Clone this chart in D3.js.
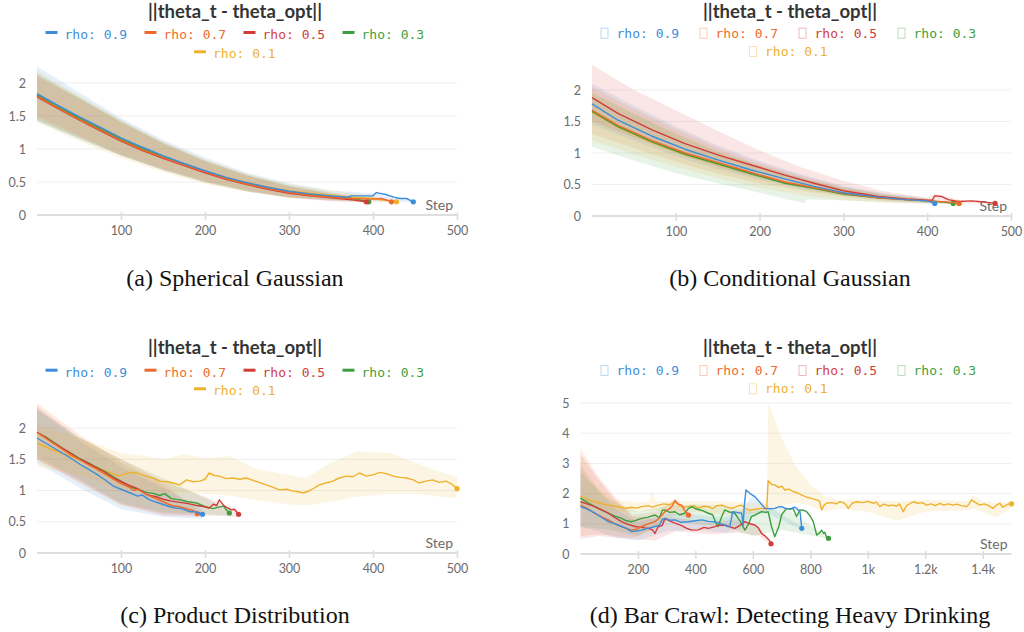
<!DOCTYPE html>
<html>
<head>
<meta charset="utf-8">
<script src="https://cdn.jsdelivr.net/npm/d3@7"></script>
<style>
  body { margin: 0; background: #fff; }
  svg { display: block; }
</style>
</head>
<body>
<svg width="1024" height="632"></svg>
<script>
const rho_labels = ["rho: 0.9", "rho: 0.7", "rho: 0.5", "rho: 0.3", "rho: 0.1"];
const rho_colors = ["#3d8ddb", "#ee6a2c", "#d23c38", "#3c9f3e", "#efb12c"];
const chart_title = "||theta_t - theta_opt||";

// ---- (a) Spherical Gaussian ----
const a_line_09 = [[0,1.84],[25,1.66],[50,1.49],[75,1.33],[100,1.17],[125,1.03],[150,0.9],[175,0.78],[200,0.67],[225,0.57],[250,0.49],[275,0.42],[300,0.36],[325,0.32],[350,0.29],[370,0.27],[374,0.29],[390,0.29],[400,0.29],[404,0.34],[415,0.31],[425,0.27],[432,0.25],[440,0.25],[448,0.2]];
const a_line_07 = [[0,1.8],[25,1.62],[50,1.45],[75,1.29],[100,1.13],[125,0.99],[150,0.87],[175,0.76],[200,0.65],[225,0.55],[250,0.47],[275,0.4],[300,0.34],[325,0.3],[350,0.27],[375,0.25],[400,0.24],[410,0.25],[418,0.22],[422,0.2]];
const a_line_05 = [[0,1.79],[25,1.61],[50,1.44],[75,1.28],[100,1.12],[125,0.98],[150,0.86],[175,0.75],[200,0.64],[225,0.54],[250,0.46],[275,0.39],[300,0.33],[325,0.29],[350,0.26],[375,0.23],[392,0.2]];
const a_line_03 = [[0,1.82],[25,1.64],[50,1.47],[75,1.31],[100,1.15],[125,1.01],[150,0.88],[175,0.77],[200,0.66],[225,0.56],[250,0.48],[275,0.41],[300,0.35],[325,0.31],[350,0.28],[375,0.25],[395,0.2]];
const a_line_01 = [[0,1.81],[25,1.63],[50,1.46],[75,1.3],[100,1.14],[125,1.0],[150,0.88],[175,0.77],[200,0.66],[225,0.57],[250,0.49],[275,0.42],[300,0.37],[325,0.33],[350,0.3],[375,0.27],[400,0.25],[410,0.23],[428,0.2]];
const a_band_09 = [[0,1.42,2.25],[50,1.15,1.86],[100,0.9,1.47],[150,0.68,1.14],[200,0.5,0.87],[250,0.36,0.64],[300,0.26,0.48],[350,0.22,0.37],[400,0.22,0.33],[448,0.19,0.21]];
const a_band_07 = [[0,1.5,2.1],[50,1.2,1.76],[100,0.92,1.41],[150,0.7,1.08],[200,0.52,0.81],[250,0.38,0.6],[300,0.27,0.44],[350,0.22,0.33],[400,0.21,0.28],[422,0.19,0.21]];
const a_band_05 = [[0,1.45,2.12],[50,1.18,1.77],[100,0.9,1.41],[150,0.68,1.09],[200,0.5,0.82],[250,0.36,0.6],[300,0.26,0.43],[350,0.21,0.32],[392,0.19,0.21]];
const a_band_03 = [[0,1.43,2.15],[50,1.16,1.79],[100,0.9,1.43],[150,0.68,1.1],[200,0.49,0.83],[250,0.36,0.61],[300,0.27,0.45],[350,0.23,0.34],[395,0.19,0.21]];
const a_band_01 = [[0,1.4,2.18],[50,1.12,1.81],[100,0.86,1.44],[150,0.65,1.12],[200,0.47,0.85],[250,0.35,0.63],[300,0.26,0.47],[350,0.23,0.37],[400,0.21,0.29],[428,0.19,0.21]];

// ---- (b) Conditional Gaussian ----
const b_line_09 = [[0,1.78],[31,1.52],[71,1.27],[111,1.06],[150,0.89],[190,0.73],[230,0.59],[265,0.47],[300,0.37],[342,0.3],[375,0.26],[400,0.24],[409,0.2]];
const b_line_07 = [[0,1.68],[31,1.44],[71,1.2],[111,1.0],[150,0.85],[190,0.69],[230,0.54],[265,0.45],[300,0.36],[342,0.29],[375,0.26],[400,0.24],[425,0.22],[438,0.2]];
const b_line_05 = [[0,1.88],[31,1.63],[71,1.37],[111,1.15],[150,0.97],[190,0.81],[230,0.65],[265,0.52],[300,0.4],[342,0.31],[375,0.27],[400,0.25],[406,0.25],[409,0.32],[417,0.31],[425,0.26],[437,0.23],[453,0.24],[461,0.23],[470,0.22],[481,0.2]];
const b_line_03 = [[0,1.66],[31,1.42],[71,1.18],[111,0.98],[150,0.83],[190,0.67],[230,0.52],[265,0.44],[300,0.35],[342,0.29],[375,0.26],[400,0.24],[420,0.22],[431,0.2]];
const b_line_01 = [[0,1.65],[31,1.41],[71,1.17],[111,0.97],[150,0.82],[190,0.67],[230,0.53],[265,0.44],[300,0.35],[342,0.29],[375,0.26],[400,0.24],[425,0.22],[438,0.2]];
const b_band_09 = [[0,1.45,2.1],[50,1.2,1.75],[100,0.95,1.42],[150,0.74,1.12],[200,0.57,0.87],[250,0.43,0.66],[300,0.32,0.48],[350,0.25,0.36],[400,0.2,0.28],[409,0.19,0.21]];
const b_band_07 = [[0,1.3,2.05],[50,1.08,1.7],[100,0.86,1.38],[150,0.67,1.08],[200,0.52,0.84],[250,0.4,0.64],[300,0.3,0.46],[350,0.24,0.34],[400,0.21,0.27],[438,0.19,0.21]];
const b_band_05 = [[0,1.5,2.4],[50,1.25,2.0],[100,1.0,1.68],[150,0.78,1.35],[200,0.6,1.04],[250,0.45,0.77],[300,0.33,0.56],[350,0.26,0.39],[400,0.22,0.29],[410,0.25,0.35],[440,0.2,0.25],[481,0.19,0.21]];
const b_band_03 = [[0,1.1,1.95],[50,0.88,1.62],[100,0.68,1.3],[150,0.52,1.02],[200,0.37,0.8],[254,0.2,0.6],[256,0.26,0.58],[300,0.25,0.45],[350,0.22,0.34],[400,0.2,0.27],[431,0.19,0.21]];
const b_band_01 = [[0,1.2,1.98],[50,0.98,1.64],[100,0.78,1.32],[150,0.6,1.04],[200,0.45,0.8],[250,0.33,0.6],[300,0.25,0.44],[350,0.21,0.33],[400,0.2,0.27],[438,0.19,0.21]];

// ---- (c) Product Distribution ----
const c_line_09 = [[0,1.84],[10,1.76],[20,1.68],[30,1.6],[40,1.52],[51,1.42],[60,1.35],[70,1.27],[80,1.18],[91,1.07],[100,1.02],[111,0.96],[120,0.91],[125,0.93],[134,0.85],[145,0.8],[158,0.74],[165,0.72],[172,0.71],[182,0.66],[188,0.66],[197,0.62]];
const c_line_07 = [[0,1.93],[10,1.84],[20,1.75],[30,1.66],[40,1.57],[50,1.5],[60,1.42],[70,1.35],[80,1.27],[90,1.19],[100,1.11],[110,1.05],[115,1.0],[120,1.02],[130,0.94],[140,0.88],[150,0.82],[160,0.76],[170,0.74],[180,0.7],[186,0.68],[191,0.63]];
const c_line_05 = [[0,1.93],[10,1.85],[20,1.76],[30,1.68],[40,1.6],[51,1.5],[60,1.44],[70,1.37],[80,1.3],[91,1.2],[100,1.14],[110,1.08],[120,1.03],[130,0.94],[135,0.92],[142,0.9],[150,0.86],[160,0.83],[170,0.81],[180,0.79],[190,0.76],[200,0.74],[205,0.72],[210,0.78],[214,0.76],[217,0.85],[223,0.75],[231,0.69],[235,0.7],[240,0.62]];
const c_line_03 = [[0,1.93],[10,1.86],[20,1.77],[32,1.66],[40,1.6],[50,1.52],[60,1.45],[70,1.38],[80,1.31],[91,1.22],[100,1.15],[111,1.06],[120,1.02],[130,0.97],[140,0.95],[146,0.92],[152,0.95],[160,0.87],[170,0.85],[180,0.82],[190,0.8],[200,0.74],[210,0.71],[215,0.73],[222,0.75],[226,0.68],[229,0.64]];
const c_line_01 = [[0,1.76],[10,1.7],[20,1.64],[35,1.57],[50,1.5],[67,1.39],[80,1.32],[98,1.23],[105,1.27],[114,1.29],[122,1.27],[130,1.23],[138,1.2],[146,1.15],[155,1.14],[162,1.12],[170,1.09],[178,1.17],[186,1.14],[194,1.15],[200,1.18],[205,1.28],[211,1.24],[217,1.23],[225,1.19],[233,1.2],[241,1.18],[249,1.2],[260,1.15],[273,1.09],[281,1.05],[289,1.01],[297,1.02],[305,0.99],[311,0.98],[317,0.96],[325,1.0],[336,1.09],[344,1.12],[352,1.15],[360,1.2],[368,1.23],[376,1.22],[384,1.28],[392,1.23],[400,1.25],[408,1.29],[416,1.27],[424,1.23],[432,1.21],[440,1.2],[448,1.17],[455,1.12],[463,1.15],[471,1.17],[479,1.13],[487,1.15],[494,1.1],[500,1.03]];
const c_band_09 = [[0,1.45,2.3],[50,1.05,1.8],[100,0.7,1.38],[150,0.58,1.05],[197,0.55,0.7]];
const c_band_07 = [[0,1.5,2.4],[50,1.12,1.9],[100,0.76,1.45],[150,0.6,1.1],[191,0.58,0.7]];
const c_band_05 = [[0,1.5,2.35],[50,1.15,1.85],[100,0.78,1.5],[150,0.62,1.15],[200,0.6,0.9],[240,0.58,0.68]];
const c_band_03 = [[0,1.55,2.3],[50,1.18,1.85],[100,0.8,1.5],[150,0.65,1.2],[200,0.62,0.88],[229,0.6,0.68]];
const c_band_01 = [[0,1.38,2.05],[50,1.25,1.85],[100,1.0,1.6],[130,1.0,1.55],[150,0.95,1.5],[175,0.97,1.58],[200,0.95,1.52],[230,0.92,1.55],[260,0.85,1.35],[300,0.78,1.25],[320,0.76,1.2],[350,0.82,1.45],[380,0.9,1.62],[420,0.95,1.6],[450,0.95,1.45],[480,0.9,1.3],[500,0.88,1.22]];

// ---- (d) Bar Crawl ----
const d_line_09 = [[0,1.57],[20,1.5],[50,1.35],[75,1.2],[97,1.07],[120,1.0],[143,0.91],[160,0.85],[178,0.74],[195,0.76],[213,0.79],[235,0.85],[259,0.91],[275,0.95],[285,1.15],[294,1.18],[310,1.12],[329,1.13],[350,1.05],[375,1.07],[400,1.1],[422,1.13],[445,1.08],[468,1.07],[490,1.0],[514,0.91],[520,0.92],[530,1.4],[545,1.38],[561,1.35],[566,0.95],[570,1.6],[576,2.12],[590,2.0],[607,1.9],[625,1.7],[642,1.51],[660,1.5],[676,1.51],[690,1.56],[700,1.57],[715,1.5],[734,1.51],[745,1.55],[752,1.51],[764,1.4],[770,0.85]];
const d_line_07 = [[0,1.62],[25,1.5],[50,1.35],[75,1.22],[97,1.13],[120,1.0],[143,0.91],[160,0.85],[178,0.79],[195,0.82],[213,0.91],[235,1.0],[259,1.07],[275,1.2],[294,1.4],[310,1.5],[320,1.6],[329,1.77],[340,1.65],[352,1.62],[362,1.45],[376,1.29]];
const d_line_05 = [[0,1.73],[25,1.65],[50,1.57],[75,1.45],[97,1.35],[120,1.2],[143,1.07],[165,0.98],[190,0.91],[210,0.88],[236,0.85],[250,0.8],[259,0.68],[270,0.9],[285,0.95],[294,1.18],[310,1.1],[329,1.02],[350,0.95],[370,0.85],[387,0.79],[410,0.8],[430,0.88],[445,0.85],[465,0.9],[480,0.95],[502,0.96],[520,0.9],[537,0.85],[555,0.95],[572,1.07],[590,1.0],[607,0.96],[620,0.85],[630,0.68],[642,0.6],[651,0.51],[658,0.45],[663,0.34]];
const d_line_03 = [[0,1.85],[25,1.7],[50,1.57],[75,1.45],[97,1.35],[120,1.25],[143,1.18],[160,1.1],[178,1.07],[195,1.12],[213,1.18],[235,1.22],[259,1.29],[275,1.2],[285,1.45],[294,1.46],[310,1.38],[329,1.4],[345,1.3],[363,1.35],[375,1.5],[387,1.57],[400,1.5],[420,1.45],[445,1.35],[460,1.3],[470,1.05],[479,0.91],[490,1.2],[502,1.46],[515,1.4],[537,1.35],[555,1.1],[572,0.79],[585,1.0],[595,1.24],[610,1.3],[630,1.4],[645,1.38],[653,1.4],[665,0.9],[676,0.57],[690,0.9],[700,1.3],[717,1.51],[730,1.48],[740,1.51],[752,1.24],[764,1.46],[775,1.45],[787,1.4],[800,1.25],[810,1.07],[822,0.63],[832,0.7],[839,0.79],[846,0.68],[850,0.72],[856,0.57],[863,0.52]];
const d_line_01 = [[0,1.9],[15,1.85],[30,1.78],[50,1.73],[70,1.68],[97,1.62],[120,1.58],[140,1.55],[155,1.51],[175,1.55],[195,1.52],[213,1.57],[235,1.6],[250,1.55],[271,1.62],[290,1.66],[310,1.63],[329,1.73],[345,1.6],[360,1.55],[375,1.57],[395,1.6],[410,1.52],[430,1.58],[445,1.57],[460,1.5],[475,1.6],[491,1.62],[510,1.55],[525,1.51],[545,1.58],[560,1.62],[575,1.5],[590,1.45],[610,1.48],[630,1.51],[648,1.5],[653,2.43],[665,2.3],[676,2.29],[690,2.2],[700,2.25],[711,2.12],[725,2.15],[740,2.07],[755,2.02],[770,1.95],[787,1.88],[800,1.85],[822,1.79],[832,1.75],[839,1.46],[848,1.62],[856,1.68],[875,1.7],[890,1.66],[902,1.73],[915,1.7],[925,1.62],[932,1.51],[945,1.68],[961,1.73],[980,1.7],[1000,1.74],[1019,1.68],[1030,1.72],[1042,1.57],[1055,1.65],[1070,1.6],[1088,1.62],[1100,1.58],[1110,1.66],[1123,1.4],[1135,1.6],[1158,1.73],[1175,1.68],[1190,1.7],[1204,1.62],[1220,1.66],[1235,1.6],[1251,1.68],[1265,1.62],[1280,1.66],[1297,1.62],[1310,1.65],[1325,1.6],[1344,1.57],[1352,1.65],[1361,1.79],[1375,1.7],[1390,1.62],[1405,1.66],[1420,1.6],[1436,1.51],[1448,1.62],[1459,1.68],[1470,1.55],[1482,1.62],[1494,1.68],[1500,1.66]];
const d_band_09 = [[0,0.9,2.9],[60,0.75,2.1],[120,0.55,1.5],[200,0.45,1.05],[300,0.75,1.35],[400,0.8,1.3],[500,0.7,1.2],[560,0.85,1.45],[600,1.3,1.95],[650,1.35,1.6],[770,0.8,0.9]];
const d_band_07 = [[0,0.6,3.5],[60,0.65,2.6],[120,0.6,1.9],[180,0.55,1.3],[260,0.8,1.4],[330,1.3,1.85],[376,1.2,1.35]];
const d_band_05 = [[0,0.5,3.3],[60,0.6,2.5],[120,0.55,1.8],[180,0.5,1.25],[260,0.45,1.15],[330,0.75,1.2],[450,0.65,1.05],[550,0.7,1.15],[620,0.6,0.9],[663,0.3,0.38]];
const d_band_03 = [[0,0.9,2.7],[100,0.8,1.8],[200,0.6,1.4],[300,1.1,1.6],[400,1.0,1.65],[500,0.9,1.6],[600,0.6,1.4],[700,0.8,1.6],[863,0.5,0.55]];
const d_band_01 = [[0,1.6,3.05],[60,1.5,2.2],[120,1.4,1.8],[200,1.4,1.7],[240,1.42,1.75],[250,1.4,2.1],[262,1.45,1.75],[400,1.4,1.75],[500,1.3,1.75],[600,1.35,1.7],[650,1.4,1.65],[653,1.5,5.0],[700,1.6,3.85],[750,1.7,2.9],[800,1.6,2.3],[850,1.4,1.9],[900,1.5,1.8],[1000,1.4,1.8],[1100,1.1,1.75],[1200,1.4,1.8],[1350,1.45,1.75],[1365,1.5,1.95],[1400,1.4,1.75],[1450,1.2,1.7],[1500,1.55,1.75]];

const a_x_ticks = [100, 200, 300, 400, 500];
const b_x_ticks = [100, 200, 300, 400, 500];
const c_x_ticks = [100, 200, 300, 400, 500];
const d_x_ticks = [200, 400, 600, 800, 1000, 1200, 1400];
const a_y_ticks = [0, 0.5, 1, 1.5, 2];
const b_y_ticks = [0, 0.5, 1, 1.5, 2];
const c_y_ticks = [0, 0.5, 1, 1.5, 2];
const d_y_ticks = [0, 1, 2, 3, 4, 5];

const panels = [
  { caption: "(a) Spherical Gaussian", lines: [a_line_09, a_line_07, a_line_05, a_line_03, a_line_01],
    bands: [a_band_09, a_band_07, a_band_05, a_band_03, a_band_01], x_max: 500, y_max: 2.25,
    x_ticks: a_x_ticks, y_ticks: a_y_ticks, icon: "dash",
    left: 37, right: 457, top: 66.5, bottom: 215, center: 235,
    title_y: 17.5, legend_y: [39, 58.3], caption_y: 286 },
  { caption: "(b) Conditional Gaussian", lines: [b_line_09, b_line_07, b_line_05, b_line_03, b_line_01],
    bands: [b_band_09, b_band_07, b_band_05, b_band_03, b_band_01], x_max: 500, y_max: 2.4,
    x_ticks: b_x_ticks, y_ticks: b_y_ticks, icon: "box",
    left: 592, right: 1011, top: 64.8, bottom: 216, center: 790,
    title_y: 17.5, legend_y: [37.7, 56], caption_y: 286 },
  { caption: "(c) Product Distribution", lines: [c_line_09, c_line_07, c_line_05, c_line_03, c_line_01],
    bands: [c_band_09, c_band_07, c_band_05, c_band_03, c_band_01], x_max: 500, y_max: 2.4,
    x_ticks: c_x_ticks, y_ticks: c_y_ticks, icon: "dash",
    left: 37, right: 457, top: 403, bottom: 553, center: 235,
    title_y: 354, legend_y: [376.7, 395.3], caption_y: 623 },
  { caption: "(d) Bar Crawl: Detecting Heavy Drinking", lines: [d_line_09, d_line_07, d_line_05, d_line_03, d_line_01],
    bands: [d_band_09, d_band_07, d_band_05, d_band_03, d_band_01], x_max: 1500, y_max: 5,
    x_ticks: d_x_ticks, y_ticks: d_y_ticks, icon: "box",
    left: 580.5, right: 1011.5, top: 403, bottom: 554, center: 790,
    title_y: 354, legend_y: [375, 393.3], caption_y: 623 }
];

const svg = d3.select("svg");
const sans = "Lato, 'Open Sans', sans-serif";
const mono = "'DejaVu Sans Mono', monospace";

function stepFormat(d) {
  return d >= 1000 ? (d / 1000) + "k" : String(d);
}

function drawPanel(p) {
  const g = svg.append("g");
  const x = d3.scaleLinear().domain([0, p.x_max]).range([p.left, p.right]);
  const y = d3.scaleLinear().domain([0, p.y_max]).range([p.bottom, p.top]);

  // grid lines
  g.selectAll(".grid").data(p.y_ticks.filter(t => t > 0)).enter().append("line")
    .attr("x1", p.left).attr("x2", p.right)
    .attr("y1", d => y(d)).attr("y2", d => y(d))
    .attr("stroke", "#efefef").attr("stroke-width", 1);

  // x axis
  const x_axis = g.append("g").attr("transform", `translate(0,${p.bottom})`)
    .call(d3.axisBottom(x).tickValues(p.x_ticks).tickSize(5).tickPadding(6).tickFormat(stepFormat));
  x_axis.select(".domain").remove();
  x_axis.selectAll(".tick line").attr("y1", -3).attr("stroke", "#dcdcdc").attr("stroke-width", 1.5);
  x_axis.selectAll("text").attr("fill", "#6b6b6b").style("font-family", sans).style("font-size", "12.5px");
  g.append("line").attr("x1", p.left).attr("x2", p.right)
    .attr("y1", p.bottom).attr("y2", p.bottom)
    .attr("stroke", "#dedede").attr("stroke-width", 2);

  // y axis
  const y_axis = g.append("g").attr("transform", `translate(${p.left},0)`)
    .call(d3.axisLeft(y).tickValues(p.y_ticks).tickSize(0).tickPadding(11).tickFormat(d3.format("~g")));
  y_axis.select(".domain").remove();
  y_axis.selectAll("text").attr("fill", "#6b6b6b").style("font-family", sans).style("font-size", "12.5px");

  g.append("text").attr("x", p.right - 4).attr("y", p.bottom - 5)
    .attr("text-anchor", "end").attr("fill", "#6b6b6b")
    .style("font-family", sans).style("font-size", "14px").text("Step");

  // bands
  const area = d3.area().x(d => x(d[0])).y0(d => y(d[1])).y1(d => y(d[2]));
  p.bands.forEach((b, i) => {
    g.append("path").attr("d", area(b))
      .attr("fill", rho_colors[i]).attr("fill-opacity", 0.13).attr("stroke", "none");
  });

  // lines, drawn last series first so rho 0.9 sits on top
  const line = d3.line().x(d => x(d[0])).y(d => y(d[1]));
  for (let i = p.lines.length - 1; i >= 0; i--) {
    const pts = p.lines[i];
    g.append("path").attr("d", line(pts))
      .attr("fill", "none").attr("stroke", rho_colors[i])
      .attr("stroke-width", 1.4).attr("stroke-linejoin", "round");
    const last = pts[pts.length - 1];
    g.append("circle").attr("cx", x(last[0])).attr("cy", y(last[1])).attr("r", 2.6)
      .attr("fill", rho_colors[i]);
  }

  // title
  g.append("text").attr("x", p.center).attr("y", p.title_y)
    .attr("text-anchor", "middle").attr("fill", "#343434")
    .style("font-family", sans).style("font-weight", "bold").style("font-size", "18.5px")
    .text(chart_title);

  // legend: 4 items on the first row, 1 on the second
  const item_w = 99;
  const gap = 17;
  const rows = [[0, 1, 2, 3], [4]];
  rows.forEach((row, r) => {
    const row_w = row.length * item_w - gap;
    let lx = p.center - row_w / 2;
    const ly = p.legend_y[r];
    row.forEach(i => {
      if (p.icon === "dash") {
        g.append("line").attr("x1", lx).attr("x2", lx + 12)
          .attr("y1", ly - 6.5).attr("y2", ly - 6.5)
          .attr("stroke", rho_colors[i]).attr("stroke-width", 3);
      } else {
        g.append("rect").attr("x", lx + 0.5).attr("y", ly - 9.5).attr("width", 7).attr("height", 10)
          .attr("fill", "none").attr("stroke", rho_colors[i]).attr("stroke-opacity", 0.35);
      }
      g.append("text").attr("x", lx + (p.icon === "dash" ? 19 : 16)).attr("y", ly)
        .attr("fill", rho_colors[i]).style("font-family", mono).style("font-size", "13px")
        .text(rho_labels[i]);
      lx += item_w;
    });
  });

  // caption
  g.append("text").attr("x", p.center).attr("y", p.caption_y)
    .attr("text-anchor", "middle").attr("fill", "#111")
    .style("font-family", "'Liberation Serif', 'Times New Roman', serif").style("font-size", "24px")
    .text(p.caption);
}

panels.forEach(drawPanel);
</script>
</body>
</html>
